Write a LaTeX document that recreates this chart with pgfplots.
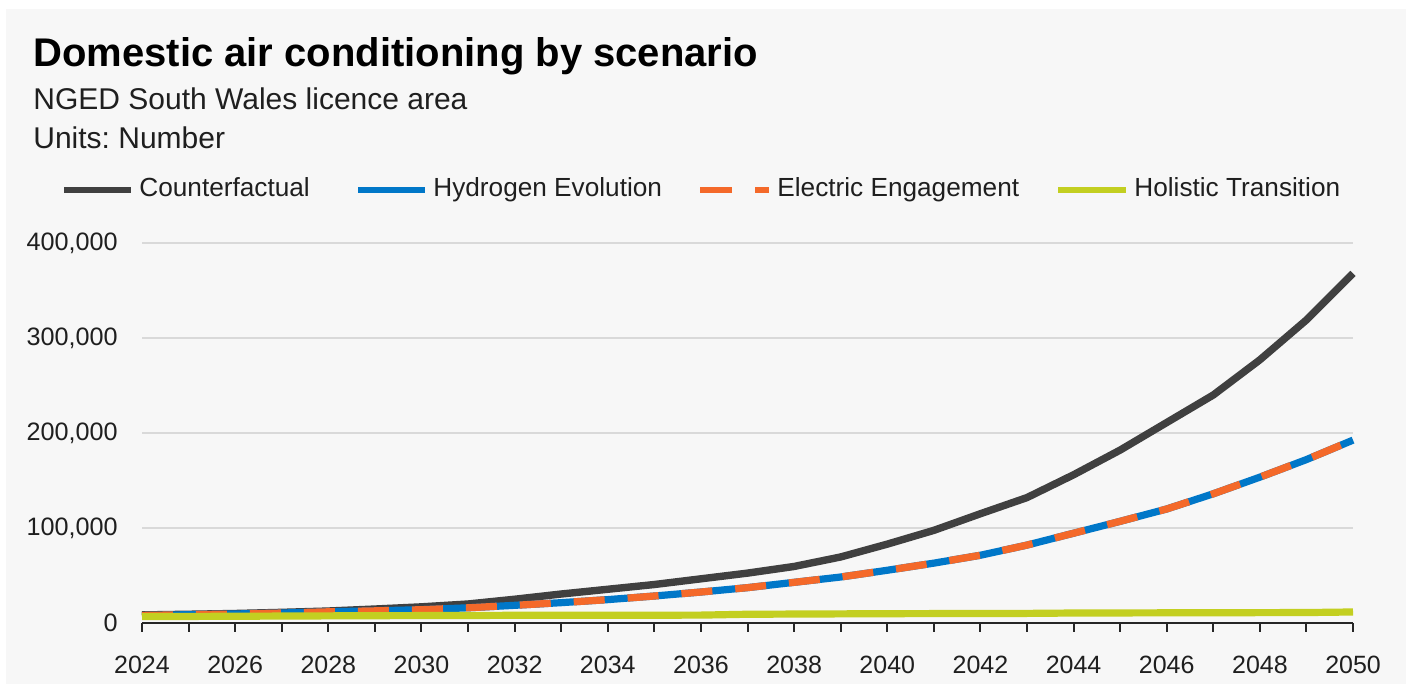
\documentclass[border=0pt]{standalone}
\usepackage{pgfplots}
\pgfplotsset{compat=1.18}
\usepackage{fontspec}
\setmainfont{Liberation Sans}
\frenchspacing
\definecolor{bgpanel}{HTML}{F7F7F7}
\definecolor{cfcol}{HTML}{404040}
\definecolor{hecol}{HTML}{0077C8}
\definecolor{eecol}{HTML}{F4692A}
\definecolor{htcol}{HTML}{C3CF21}
\definecolor{gridcol}{HTML}{D9D9D9}
\begin{document}
\begin{tikzpicture}
\useasboundingbox (0,0) rectangle (704pt,342pt);
\fill[white] (0,0) rectangle (704pt,342pt);
\fill[bgpanel] (3pt,0) rectangle (703pt,337.5pt);
% titles
\node[anchor=base west, inner sep=0pt] at (16.5pt,308.5pt) {\fontsize{20}{24}\selectfont\bfseries Domestic air conditioning by scenario};
\node[anchor=base west, inner sep=0pt, text=black!88] at (16.5pt,287pt) {\fontsize{15}{18}\selectfont NGED South Wales licence area};
\node[anchor=base west, inner sep=0pt, text=black!88] at (16.5pt,267.5pt) {\fontsize{15}{18}\selectfont Units: Number};
% legend
\draw[cfcol, line width=3.4pt] (32pt,247pt) -- (65.5pt,247pt);
\node[anchor=base west, inner sep=0pt, text=black!88] at (69.5pt,243.6pt) {\fontsize{13.1}{15}\selectfont Counterfactual};
\draw[hecol, line width=3.4pt] (179pt,247pt) -- (212.5pt,247pt);
\node[anchor=base west, inner sep=0pt, text=black!88] at (216.5pt,243.6pt) {\fontsize{13.1}{15}\selectfont Hydrogen Evolution};
\draw[eecol, line width=3.4pt, dash pattern=on 16pt off 11.5pt] (350pt,247pt) -- (384.5pt,247pt);
\node[anchor=base west, inner sep=0pt, text=black!88] at (388.5pt,243.6pt) {\fontsize{13.1}{15}\selectfont Electric Engagement};
\draw[htcol, line width=3.4pt] (529pt,247pt) -- (563pt,247pt);
\node[anchor=base west, inner sep=0pt, text=black!88] at (567pt,243.6pt) {\fontsize{13.1}{15}\selectfont Holistic Transition};
\begin{axis}[
  at={(71pt,30.5pt)}, anchor=south west,
  scale only axis, width=605.5pt, height=190pt,
  xmin=2024, xmax=2050, ymin=0, ymax=400000,
  axis lines*=left,
  y axis line style={draw=none},
  x axis line style={-, line width=1pt, color=black!85},
  xtick={2024,2026,...,2050},
  xticklabels={2024,2026,2028,2030,2032,2034,2036,2038,2040,2042,2044,2046,2048,2050},
  minor xtick={2025,2027,...,2049},
  tick align=outside,
  major tick length=4.5pt, minor tick length=4.5pt,
  x tick style={line width=1pt, color=black!85},
  minor x tick style={line width=1pt, color=black!85},
  y tick style={draw=none},
  ytick={0,100000,200000,300000,400000},
  yticklabels={0,{100,000},{200,000},{300,000},{400,000}},
  ymajorgrids,
  grid style={gridcol, line width=1pt},
  scaled y ticks=false,
  x tick label style={anchor=base, inner sep=0pt, yshift=-21pt, font=\fontsize{12.5}{15}\selectfont, text=black!88},
  y tick label style={anchor=east, inner sep=0pt, xshift=-7.5pt, font=\fontsize{12.6}{15}\selectfont, text=black!88},
  clip=false,
]
\addplot[cfcol, line width=3.7pt, no markers] coordinates {
(2024,8500) (2025,9200) (2026,10000) (2027,11200) (2028,12600) (2029,14700) (2030,17000) (2031,20000) (2032,25000) (2033,30500) (2034,35500) (2035,40500) (2036,46500) (2037,52500) (2038,59500) (2039,69500) (2040,83000) (2041,97500) (2042,115000) (2043,132000) (2044,156000) (2045,182000) (2046,211000) (2047,240000) (2048,277000) (2049,319000) (2050,368000)};
\addplot[hecol, line width=3.6pt, no markers] coordinates {
(2024,8000) (2025,8700) (2026,9500) (2027,10500) (2028,11800) (2029,12800) (2030,14000) (2031,16000) (2032,18600) (2033,21400) (2034,24600) (2035,28400) (2036,32600) (2037,37200) (2038,42800) (2039,48400) (2040,55500) (2041,63000) (2042,71300) (2043,82000) (2044,94500) (2045,107000) (2046,120000) (2047,136000) (2048,153500) (2049,172000) (2050,192500)};
\addplot[eecol, line width=3.6pt, no markers, dash pattern=on 15.5pt off 11.5pt] coordinates {
(2024,8000) (2025,8700) (2026,9500) (2027,10500) (2028,11800) (2029,12800) (2030,14000) (2031,16000) (2032,18600) (2033,21400) (2034,24600) (2035,28400) (2036,32600) (2037,37200) (2038,42800) (2039,48400) (2040,55500) (2041,63000) (2042,71300) (2043,82000) (2044,94500) (2045,107000) (2046,120000) (2047,136000) (2048,153500) (2049,172000) (2050,192500)};
\addplot[htcol, line width=3.6pt, no markers] coordinates {
(2024,6700) (2025,6900) (2026,7100) (2027,7300) (2028,7500) (2029,7700) (2030,7800) (2031,7900) (2032,8100) (2033,8100) (2034,8200) (2035,8200) (2036,8300) (2037,9200) (2038,9400) (2039,9600) (2040,9800) (2041,9900) (2042,10000) (2043,10100) (2044,10500) (2045,10600) (2046,10700) (2047,10800) (2048,10900) (2049,11000) (2050,11600)};
\end{axis}
\end{tikzpicture}
\end{document}
